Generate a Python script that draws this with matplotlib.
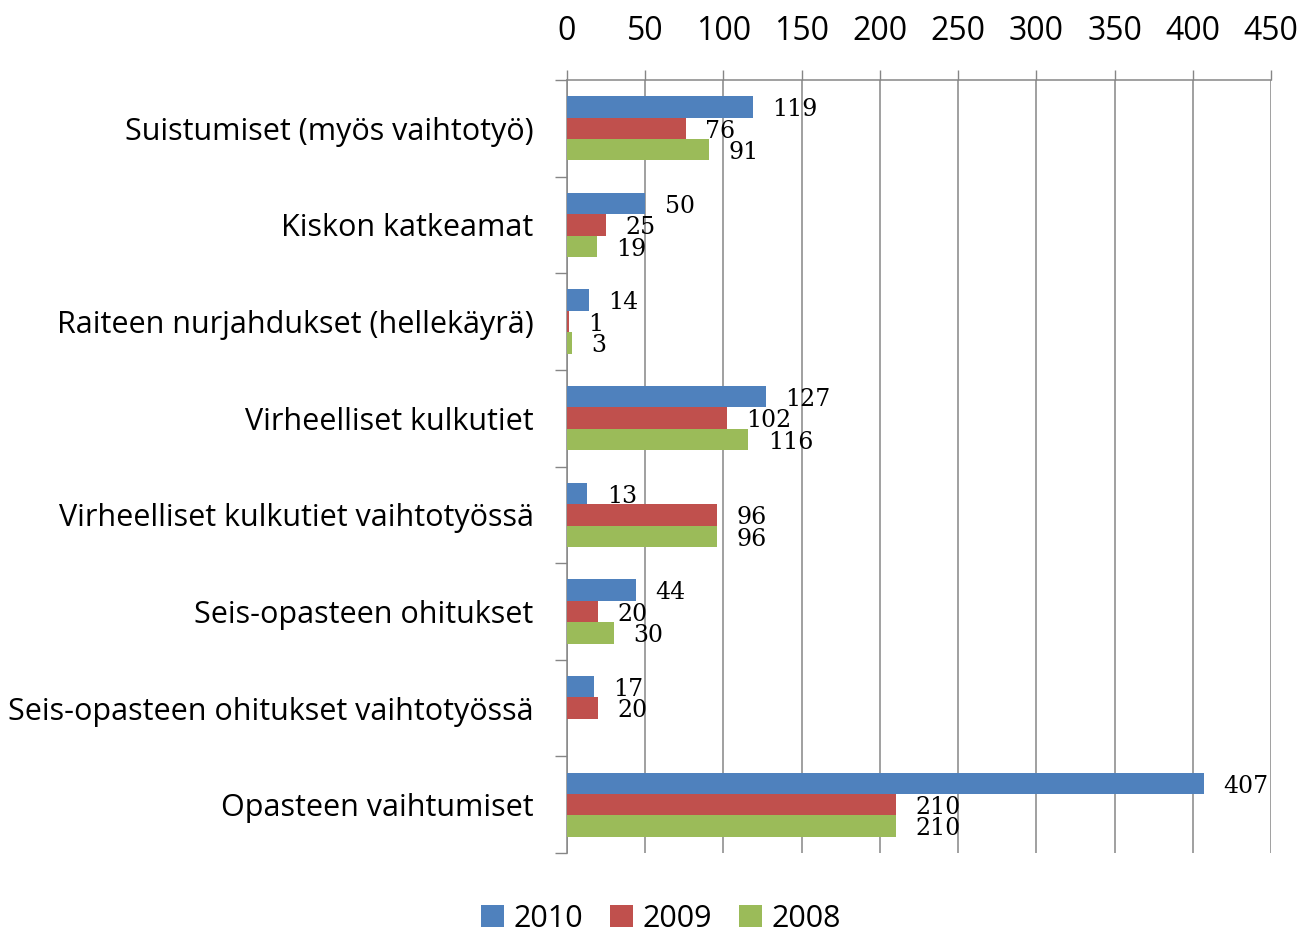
import matplotlib
matplotlib.use("Agg")
import matplotlib.pyplot as plt
import numpy as np

categories = [
    "Suistumiset (myös vaihtotyö)",
    "Kiskon katkeamat",
    "Raiteen nurjahdukset (hellekäyrä)",
    "Virheelliset kulkutiet",
    "Virheelliset kulkutiet vaihtotyössä",
    "Seis-opasteen ohitukset",
    "Seis-opasteen ohitukset vaihtotyössä",
    "Opasteen vaihtumiset",
]
series_names = ["2010", "2009", "2008"]
values_2010 = [119, 50, 14, 127, 13, 44, 17, 407]
values_2009 = [76, 25, 1, 102, 96, 20, 20, 210]
values_2008 = [91, 19, 3, 116, 96, 30, None, 210]
colors = ["#4F81BD", "#C0504D", "#9BBB59"]
x_ticks = [0, 50, 100, 150, 200, 250, 300, 350, 400, 450]

fig = plt.figure(figsize=(13.01, 9.35), dpi=100)
ax = fig.add_axes([567/1301, 1-853/935, (1271-567)/1301, (853-80)/935])

sans = "Open Sans"
grid_c = "#868686"
h = 0.222
y = np.arange(len(categories))
all_series = [values_2010, values_2009, values_2008]
for i, (vals, col, name) in enumerate(zip(all_series, colors, series_names)):
    v = np.array([np.nan if a is None else a for a in vals], dtype=float)
    pos = y + (i - 1) * h
    ax.barh(pos, np.nan_to_num(v), height=h, color=col, label=name, zorder=3,
            edgecolor="none")
    for p, val in zip(pos, v):
        if np.isnan(val):
            continue
        ax.annotate(f"{int(val)}", (val, p), xytext=(14, -2), textcoords="offset points",
                    ha="left", va="center", fontsize=17, family="DejaVu Serif",
                    color="black", zorder=4)

ax.set_xlim(0, 450)
ax.set_ylim(7.5, -0.5)
ax.set_xticks(x_ticks)
ax.set_xticklabels([str(t) for t in x_ticks])
ax.xaxis.tick_top()
ax.tick_params(axis="x", which="major", length=7, width=1, color=grid_c,
               labelsize=23, pad=16)
for lab in ax.get_xticklabels():
    lab.set_family(sans)
ax.grid(axis="x", color=grid_c, linewidth=1.1, zorder=0)
ax.set_axisbelow(True)

ax.set_yticks(y)
ax.set_yticklabels(categories)
ax.tick_params(axis="y", which="major", length=0, labelsize=22, pad=24)
for lab in ax.get_yticklabels():
    lab.set_family(sans)
ax.set_yticks(np.arange(-0.5, 8, 1), minor=True)
ax.tick_params(axis="y", which="minor", length=9, width=1, color=grid_c)

for s in ["right", "bottom"]:
    ax.spines[s].set_visible(False)
for s in ["left", "top"]:
    ax.spines[s].set_color(grid_c)
    ax.spines[s].set_linewidth(1.1)

leg = fig.legend(loc="lower center", bbox_to_anchor=(0.508, -0.028), ncol=3, frameon=False,
                 prop={"family": sans, "size": 22}, handlelength=0.75, handleheight=0.75,
                 handletextpad=0.3, columnspacing=0.9)

fig.savefig("out.png", dpi=100)
